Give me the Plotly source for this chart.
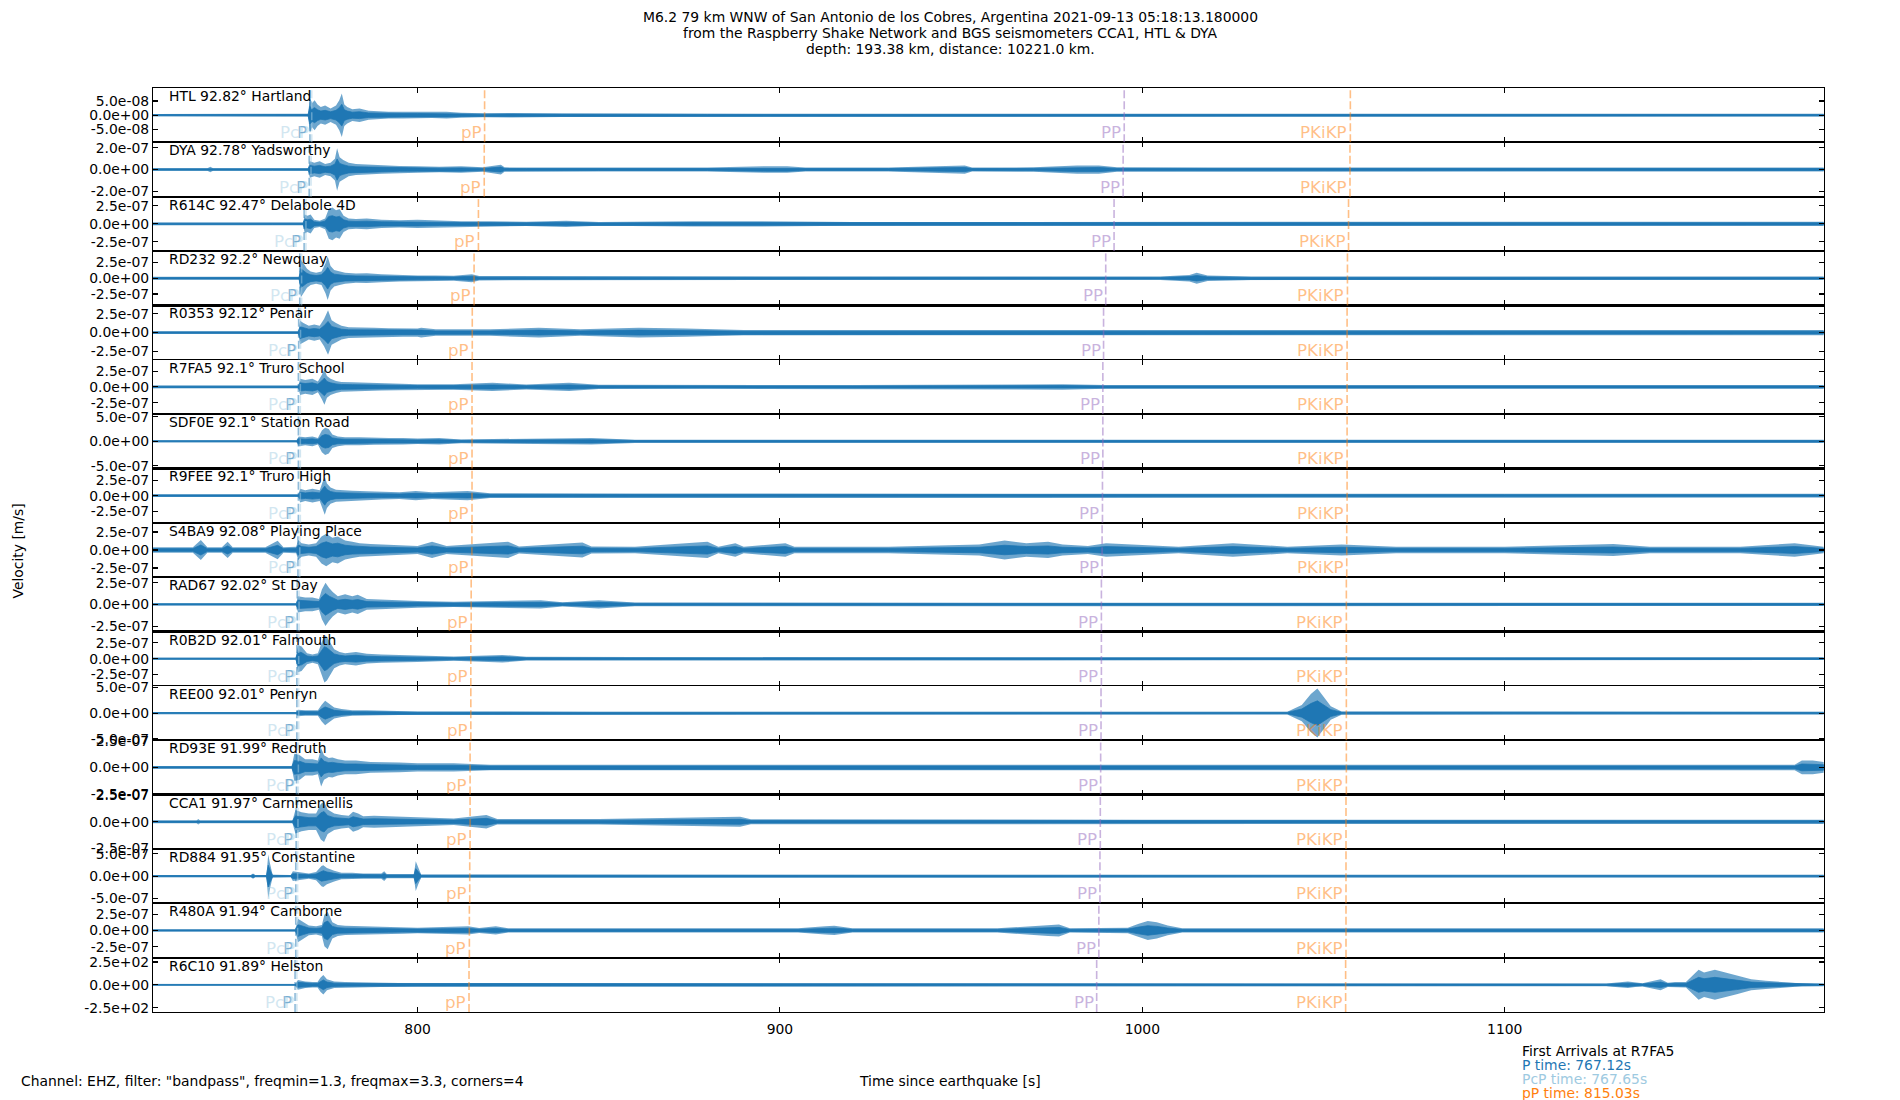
import plotly.graph_objects as go
from plotly.subplots import make_subplots

# ---------------- data ----------------
CODES = ["HTL", "DYA", "R614C", "RD232", "R0353", "R7FA5", "SDF0E", "R9FEE", "S4BA9",
         "RAD67", "R0B2D", "REE00", "RD93E", "CCA1", "RD884", "R480A", "R6C10"]
DISTS = [92.82, 92.78, 92.47, 92.2, 92.12, 92.1, 92.1, 92.1, 92.08,
         92.02, 92.01, 92.01, 91.99, 91.97, 91.95, 91.94, 91.89]
PLACES = ["Hartland", "Yadsworthy", "Delabole 4D", "Newquay", "Penair", "Truro School",
          "Station Road", "Truro High", "Playing Place", "St Day", "Falmouth", "Penryn",
          "Redruth", "Carnmenellis", "Constantine", "Camborne", "Helston"]

# amplitude unit per station (m/s, last one counts)
UNITS = [1e-7] * 16 + [1e2]
# half-range of each panel's y axis (in UNITS)
YLIM = [0.96, 2.5, 3.78, 4.3, 3.64, 4.3, 5.55, 4.39, 3.78, 3.13, 4.3, 5.23, 2.55, 2.55, 6.1, 4.17, 2.98]
# labelled y tick (in UNITS); ticks at +v, 0, -v
YTICK = [0.5, 2, 2.5, 2.5, 2.5, 2.5, 5, 2.5, 2.5, 2.5, 2.5, 5, 2.5, 2.5, 5, 2.5, 2.5]

# phase arrival times [s] per station
T_P = [770.3, 770.1, 768.7, 767.5, 767.2, 767.12, 767.12, 767.12, 767.0,
       766.8, 766.7, 766.7, 766.6, 766.5, 766.4, 766.4, 766.2]
T_PCP = [770.8, 770.6, 769.2, 768.0, 767.7, 767.65, 767.65, 767.65, 767.5,
         767.3, 767.2, 767.2, 767.1, 767.0, 766.9, 766.9, 766.7]
T_PP_DEPTH = [818.5, 818.4, 816.8, 815.6, 815.1, 815.03, 815.03, 815.03, 815.0,
              814.8, 814.7, 814.7, 814.5, 814.5, 814.4, 814.3, 814.2]
T_PP = [995.0, 994.7, 992.2, 989.9, 989.3, 989.1, 989.1, 989.0, 988.9,
        988.7, 988.7, 988.6, 988.5, 988.4, 988.3, 988.0, 987.4]
T_PKIKP = [1057.4, 1057.3, 1056.9, 1056.6, 1056.5, 1056.5, 1056.5, 1056.5, 1056.4,
           1056.3, 1056.3, 1056.3, 1056.3, 1056.2, 1056.2, 1056.2, 1056.1]

# trace envelopes: times [s] and peak amplitudes (in UNITS)
T_HTL = [727, 745, 769.8, 770.3, 770.9, 771.6, 772.4, 773.3, 774.5, 776, 777.5, 778.4, 779.1, 779.8,
         780.6, 782, 784, 786.5, 789, 792, 796, 800, 804, 808, 812, 818, 826, 840, 860, 880, 900,
         950, 1000, 1050, 1100, 1150, 1188]
A_HTL = [0.04, 0.05, 0.05, 0.62, 0.43, 0.53, 0.38, 0.29, 0.34, 0.24, 0.34, 0.53, 0.77, 0.38,
         0.29, 0.21, 0.24, 0.16, 0.14, 0.12, 0.12, 0.12, 0.10, 0.12, 0.09, 0.07, 0.08, 0.06, 0.06, 0.05, 0.05,
         0.05, 0.05, 0.05, 0.05, 0.05, 0.05]

T_DYA = [727, 742, 742.8, 743.6, 760, 769.8, 770.3, 771.5, 773, 774.5, 776, 777.2, 777.8, 778.5, 779.5,
         781, 783, 786, 790, 795, 800, 806, 812, 818, 823, 824, 830, 850, 880, 896, 902, 907, 930, 951,
         953, 970, 982, 988, 993, 1020, 1060, 1100, 1150, 1188]
A_DYA = [0.12, 0.12, 0.25, 0.12, 0.12, 0.12, 0.75, 0.62, 0.75, 0.5, 0.62, 1.0, 1.95, 1.12, 0.88,
         0.62, 0.5, 0.45, 0.38, 0.32, 0.3, 0.25, 0.3, 0.2, 0.45, 0.2, 0.18, 0.18, 0.18, 0.3, 0.3, 0.18, 0.18, 0.38,
         0.18, 0.2, 0.38, 0.38, 0.2, 0.18, 0.18, 0.18, 0.18, 0.18]

T_R614C = [727, 760, 768.4, 768.9, 769.6, 770.5, 771.5, 773, 774.5, 775.5, 776.5, 777.5, 778.5, 779.6,
           781, 783, 786, 790, 795, 800, 806, 812, 820, 830, 841, 850, 876, 893, 920, 960, 1000, 1060,
           1120, 1188]
A_R614C = [0.19, 0.19, 0.19, 1.32, 1.13, 1.32, 0.57, 0.45, 0.76, 2.08, 2.27, 1.89, 2.08, 1.13,
           0.76, 0.68, 0.76, 0.57, 0.49, 0.57, 0.45, 0.38, 0.38, 0.3, 0.45, 0.26, 0.38, 0.38, 0.26, 0.3, 0.3, 0.3,
           0.3, 0.3]

T_RD232 = [727, 766, 767.3, 767.8, 768.5, 769.5, 770.5, 772, 773.5, 774.6, 775.2, 776, 777, 778.5, 780,
           783, 786, 790, 795, 800, 805, 810, 815, 817, 825, 850, 880, 900, 950, 1005, 1013, 1015, 1018,
           1030, 1080, 1130, 1188]
A_RD232 = [0.22, 0.22, 0.22, 3.01, 2.37, 1.51, 1.08, 0.86, 1.08, 2.37, 3.44, 1.94, 1.29, 1.08, 0.86,
           0.73, 0.77, 0.65, 0.52, 0.43, 0.43, 0.39, 0.65, 0.34, 0.34, 0.3, 0.3, 0.26, 0.26, 0.26, 0.52, 0.86, 0.43,
           0.26, 0.26, 0.26, 0.26]

T_R0353 = [727, 766, 767.1, 767.6, 768.5, 770, 771.5, 773, 774.2, 775.3, 776.3, 777.5, 779, 781, 784,
           788, 792, 796, 800, 801, 805, 820, 833.5, 845, 861, 874, 890, 950, 1000, 1050, 1100, 1150, 1188]
A_R0353 = [0.18, 0.18, 0.18, 1.57, 1.27, 0.91, 1.09, 0.91, 1.82, 2.98, 1.64, 1.27, 0.91, 0.73, 0.73,
           0.66, 0.58, 0.55, 0.55, 0.66, 0.44, 0.44, 0.66, 0.44, 0.66, 0.55, 0.36, 0.36, 0.36, 0.36, 0.36, 0.36, 0.36]

T_R7FA5 = [727, 766, 767.1, 767.6, 769, 771, 772.5, 773.6, 774.3, 775, 776, 777.5, 779, 782, 786, 790,
           795, 800, 810, 820.7, 830, 841.8, 850, 880, 920, 978, 990, 1040, 1100, 1188]
A_R7FA5 = [0.22, 0.22, 0.22, 1.29, 1.08, 1.29, 0.86, 1.94, 2.8, 1.72, 1.29, 0.95, 0.77, 0.73, 0.65, 0.56,
           0.52, 0.43, 0.43, 0.65, 0.39, 0.65, 0.34, 0.3, 0.3, 0.43, 0.3, 0.3, 0.3, 0.3]

T_SDF0E = [727, 765.5, 766.6, 767.2, 769, 771, 772.5, 773.6, 774.5, 775.5, 776.5, 778, 780, 784, 788,
           792, 796, 800, 806, 812, 848, 860, 900, 1000, 1100, 1188]
A_SDF0E = [0.22, 0.22, 0.22, 1.0, 0.83, 1.0, 0.67, 2.22, 2.78, 2.5, 1.39, 1.0, 0.83, 0.83, 0.72,
           0.67, 0.67, 0.56, 0.67, 0.39, 0.67, 0.33, 0.33, 0.33, 0.33, 0.33]

T_R9FEE = [727, 766, 767.1, 767.6, 769, 771, 773, 773.8, 774.4, 775, 776, 777.5, 779, 782, 786, 790,
           795, 799.5, 804, 813.8, 820, 860, 900, 1000, 1100, 1188]
A_R9FEE = [0.22, 0.22, 0.22, 1.1, 0.88, 1.1, 0.88, 2.2, 3.07, 1.98, 1.32, 0.97, 0.88, 0.79, 0.7, 0.61,
           0.53, 0.75, 0.53, 0.75, 0.4, 0.35, 0.31, 0.31, 0.31, 0.31]

T_S4BA9 = [727, 738, 740.2, 742, 746, 747.6, 749, 758, 761.4, 763, 766.5, 767.1, 768, 770, 772, 773.5,
           774.8, 776.5, 778, 780, 782, 784, 787, 790, 795, 800, 804, 808, 825, 828, 845.5, 848, 860,
           878, 880, 883, 887.7, 890, 901.5, 904, 930, 955, 962, 968, 974, 978, 985, 990, 1000, 1010,
           1025, 1040, 1055, 1070, 1100, 1130, 1140, 1165, 1180, 1188]
A_S4BA9 = [0.38, 0.38, 1.4, 0.38, 0.38, 1.13, 0.38, 0.38, 1.29, 0.38, 0.45, 1.4, 0.95, 0.76, 0.95, 1.89,
           2.27, 1.7, 1.89, 1.32, 1.13, 0.95, 0.83, 0.76, 0.68, 0.57, 1.13, 0.57, 1.13, 0.49, 1.06, 0.49, 0.45,
           1.06, 1.13, 0.45, 0.95, 0.45, 0.95, 0.45, 0.45, 0.76, 1.32, 0.95, 1.13, 0.76, 0.57, 0.95, 0.68, 0.45,
           0.95, 0.45, 0.76, 0.45, 0.45, 0.83, 0.45, 0.45, 0.95, 0.45]

T_RAD67 = [727, 765.8, 766.5, 767, 769, 771, 772.8, 773.6, 774.6, 775.6, 776.6, 778, 780, 782, 783.5,
           786, 790, 795, 800, 810, 834, 840, 850, 860, 900, 1000, 1100, 1188]
A_RAD67 = [0.13, 0.13, 0.13, 0.94, 0.78, 0.78, 0.63, 1.72, 2.5, 1.88, 1.41, 0.94, 1.16, 0.94, 1.1,
           0.63, 0.56, 0.47, 0.38, 0.31, 0.47, 0.25, 0.47, 0.22, 0.19, 0.19, 0.19, 0.19]

T_R0B2D = [727, 765.8, 766.4, 767, 768, 769.5, 771, 772.5, 773.3, 774.3, 775, 775.8, 777, 778.5, 780,
           783, 786, 790, 795, 800, 810, 823.4, 830, 860, 900, 1000, 1100, 1188]
A_R0B2D = [0.17, 0.17, 0.17, 2.15, 1.94, 0.86, 0.65, 0.86, 2.15, 3.78, 3.44, 2.58, 1.51, 1.08, 0.86,
           1.08, 0.77, 0.65, 0.56, 0.52, 0.34, 0.6, 0.3, 0.26, 0.22, 0.22, 0.22, 0.22]

T_REE00 = [727, 766, 766.5, 767, 769, 772.5, 773.5, 774.5, 775.5, 777, 779, 782, 786, 790, 800, 850,
           900, 1000, 1040, 1044, 1046.5, 1048.3, 1050, 1052, 1055, 1100, 1188]
A_REE00 = [0.21, 0.21, 0.21, 0.63, 0.52, 0.52, 1.57, 2.35, 1.83, 1.05, 0.78, 0.52, 0.52, 0.42, 0.31, 0.26,
           0.26, 0.26, 0.26, 1.57, 3.66, 4.71, 3.14, 1.31, 0.31, 0.26, 0.26]

T_RD93E = [727, 764.8, 765.3, 766, 767.5, 769, 771, 772.5, 773.4, 774.2, 775.5, 776.5, 778, 780, 783,
           787, 790, 795, 800, 810, 820, 850, 900, 1000, 1100, 1180, 1182, 1185, 1188]
A_RD93E = [0.13, 0.13, 0.13, 1.28, 1.15, 0.77, 0.77, 0.64, 1.79, 1.15, 0.89, 0.94, 0.77, 0.64, 0.64,
           0.51, 0.51, 0.46, 0.38, 0.38, 0.26, 0.26, 0.26, 0.26, 0.26, 0.26, 0.64, 0.64, 0.51]

T_CCA1 = [727, 739, 739.5, 740, 765, 765.5, 766.3, 768, 770, 772, 773.3, 774.2, 775.2, 777, 779, 781,
          782.2, 783.6, 785, 788, 792, 796, 800, 810, 819, 822, 850, 889, 892, 950, 1000, 1100, 1188]
A_CCA1 = [0.13, 0.13, 0.26, 0.13, 0.13, 0.13, 1.1, 0.89, 0.77, 0.77, 1.66, 1.91, 1.15, 0.77, 0.64, 0.56,
          0.94, 0.77, 0.51, 0.56, 0.51, 0.46, 0.38, 0.31, 0.64, 0.26, 0.26, 0.46, 0.23, 0.2, 0.2, 0.2, 0.2]

T_RD884 = [727, 754, 754.6, 755.2, 758.3, 758.8, 759.3, 760, 765, 765.6, 767, 770, 772, 773.5, 774, 775,
           777, 779, 782, 785, 790, 790.8, 791.5, 795, 799, 799.5, 800.2, 801, 810, 850, 900, 1000, 1100, 1188]
A_RD884 = [0.24, 0.24, 0.61, 0.24, 0.24, 4.88, 2.75, 0.31, 0.24, 1.1, 0.92, 0.61, 0.92, 2.26, 2.44, 1.83,
           1.22, 0.73, 0.73, 0.61, 0.61, 1.1, 0.49, 0.49, 0.49, 3.36, 1.83, 0.37, 0.37, 0.31, 0.31, 0.31, 0.31, 0.31]

T_R480A = [727, 765.8, 766.3, 767, 768.5, 770, 772, 773.6, 774.3, 775.2, 776.5, 778, 780, 784, 788, 792,
           796, 800, 814, 817, 821.6, 825, 860, 905, 912.5, 915, 918, 920, 960, 974, 977, 980, 996, 999,
           1001.5, 1004, 1007, 1011, 1030, 1100, 1188]
A_R480A = [0.17, 0.17, 0.17, 1.79, 1.25, 0.75, 0.63, 0.83, 2.42, 2.88, 1.25, 0.83, 0.71, 0.63, 0.63, 0.54,
           0.5, 0.42, 0.63, 0.38, 0.63, 0.33, 0.33, 0.33, 0.63, 0.71, 0.5, 0.33, 0.33, 0.83, 0.92, 0.33, 0.42, 1.04,
           1.46, 1.25, 0.75, 0.33, 0.33, 0.33, 0.33]

T_R6C10 = [727, 765.8, 766.2, 767, 769, 771, 772.4, 773.2, 774, 775, 777, 780, 785, 790, 800, 850, 900,
           1000, 1100, 1128, 1134, 1136, 1138, 1143, 1145, 1147, 1150, 1153.5, 1155, 1158, 1161, 1164,
           1168, 1172, 1176, 1180, 1182, 1188]
A_R6C10 = [0.09, 0.09, 0.09, 0.54, 0.36, 0.3, 0.3, 0.77, 1.07, 0.6, 0.36, 0.3, 0.3, 0.24, 0.18, 0.15, 0.15,
           0.15, 0.15, 0.15, 0.36, 0.24, 0.18, 0.6, 0.24, 0.3, 0.3, 1.64, 1.34, 1.64, 1.34, 1.04,
           0.6, 0.45, 0.36, 0.24, 0.15, 0.15]

TIMES = [T_HTL, T_DYA, T_R614C, T_RD232, T_R0353, T_R7FA5, T_SDF0E, T_R9FEE, T_S4BA9,
         T_RAD67, T_R0B2D, T_REE00, T_RD93E, T_CCA1, T_RD884, T_R480A, T_R6C10]
AMPS = [A_HTL, A_DYA, A_R614C, A_RD232, A_R0353, A_R7FA5, A_SDF0E, A_R9FEE, A_S4BA9,
        A_RAD67, A_R0B2D, A_REE00, A_RD93E, A_CCA1, A_RD884, A_R480A, A_R6C10]

X_RANGE = [727.0, 1188.1]
X_TICKS = [800, 900, 1000, 1100]

TITLE_LINES = ["M6.2 79 km WNW of San Antonio de los Cobres, Argentina 2021-09-13 05:18:13.180000",
               "from the Raspberry Shake Network and BGS seismometers CCA1, HTL & DYA",
               "depth: 193.38 km, distance: 10221.0 km."]
ARRIVAL_LINES = ["First Arrivals at R7FA5", "P time: 767.12s", "PcP time: 767.65s", "pP time: 815.03s"]
ARRIVAL_COLORS = ["#000000", "#1f77b4", "#9ecae1", "#ff7f0e"]

# phases: (name, times, rgba colour)
PHASES = [("PcP", T_PCP, "rgba(166,206,227,0.5)"),
          ("P", T_P, "rgba(31,119,180,0.5)"),
          ("pP", T_PP_DEPTH, "rgba(255,127,14,0.5)"),
          ("PP", T_PP, "rgba(148,103,189,0.5)"),
          ("PKiKP", T_PKIKP, "rgba(255,127,14,0.5)")]

# ---------------- figure ----------------
W, H = 1900, 1100
ML, MR, MT, MB = 153, 76, 88, 88
FONT = "DejaVu Sans"
FS = 13.9
TRACE_C = "#1f77b4"
TRACE_HAZE = "rgba(31,119,180,0.65)"
CORE = 0.5  # dense core of the wiggles, as a share of the peak envelope

N = len(CODES)
fig = make_subplots(rows=N, cols=1, shared_xaxes=True, vertical_spacing=0)


def px_x(px):
    return (px - ML) / (W - ML - MR)


def px_y(py):
    return (H - MB - py) / (H - MT - MB)


def fmt(v):
    return "%.1e" % v


annotations = []
shapes = []
for i in range(N):
    row = i + 1
    u = UNITS[i]
    n = min(len(TIMES[i]), len(AMPS[i]))
    t, a = TIMES[i][:n], AMPS[i][:n]
    xs = list(t) + list(t[::-1])
    # translucent outer envelope (peaks of the wiggles)
    ys = [v * u for v in a] + [-v * u for v in a[::-1]]
    fig.add_trace(go.Scatter(x=xs, y=ys, mode="lines", fill="toself", fillcolor=TRACE_HAZE,
                             line=dict(width=0), hoverinfo="skip", showlegend=False),
                  row=row, col=1)
    # dense core
    yc = [CORE * v * u for v in a] + [-CORE * v * u for v in a[::-1]]
    fig.add_trace(go.Scatter(x=xs, y=yc, mode="lines", fill="toself", fillcolor=TRACE_C,
                             line=dict(color=TRACE_C, width=0.8), hoverinfo="skip",
                             showlegend=False), row=row, col=1)

    sfx = "" if row == 1 else str(row)
    xa = "x" + sfx
    ya = "y" + sfx
    lim = YLIM[i] * u
    tv = YTICK[i] * u
    fig.update_yaxes(range=[-lim, lim], tickvals=[tv, 0, -tv],
                     ticktext=[fmt(tv), fmt(0.0), fmt(-tv)],
                     ticks="inside", ticklen=5, tickwidth=1.1, tickcolor="black",
                     showline=True, linecolor="black", linewidth=1.1, mirror="ticks",
                     showgrid=False, zeroline=False,
                     tickfont=dict(family=FONT, size=FS, color="black"),
                     fixedrange=True, row=row, col=1)
    fig.update_xaxes(range=X_RANGE, tickvals=X_TICKS, ticktext=[str(v) for v in X_TICKS],
                     ticks="inside", ticklen=5, tickwidth=1.1, tickcolor="black",
                     showline=True, linecolor="black", linewidth=1.1, mirror="ticks",
                     showgrid=False, zeroline=False, showticklabels=(row == N),
                     ticklabelstandoff=(4 if row == N else 0),
                     tickfont=dict(family=FONT, size=FS, color="black"),
                     row=row, col=1)

    # station label
    annotations.append(dict(text="%s %s\u00b0 %s" % (CODES[i], format(DISTS[i], "g"), PLACES[i]),
                            xref=xa + " domain", yref=ya + " domain", x=0.01, y=1.0,
                            xanchor="left", yanchor="top", showarrow=False, xshift=-3, yshift=2,
                            font=dict(family=FONT, size=FS, color="black")))

    # phase lines and labels
    for name, times, col in PHASES:
        tt = times[i]
        shapes.append(dict(type="line", xref=xa, yref=ya + " domain", x0=tt, x1=tt, y0=0, y1=1,
                           line=dict(color=col, width=1.6, dash="8px,3px"), layer="above"))
        annotations.append(dict(text=name, xref=xa, yref=ya + " domain", x=tt, y=0,
                                xanchor="right", yanchor="bottom", showarrow=False,
                                xshift=-1, yshift=-2,
                                font=dict(family=FONT, size=16.7, color=col)))

# title
for line, py in zip(TITLE_LINES, [17, 32.8, 48.6]):
    annotations.append(dict(text=line, xref="paper", yref="paper", x=px_x(950), y=px_y(py),
                            xanchor="center", yanchor="middle", showarrow=False,
                            font=dict(family=FONT, size=FS, color="black")))

annotations.append(dict(text="Velocity [m/s]", xref="paper", yref="paper", x=px_x(17.5), y=px_y(551),
                        xanchor="center", yanchor="middle", textangle=-90, showarrow=False,
                        font=dict(family=FONT, size=FS, color="black")))
annotations.append(dict(text='Channel: EHZ, filter: "bandpass", freqmin=1.3, freqmax=3.3, corners=4',
                        xref="paper", yref="paper", x=px_x(19), y=px_y(1081),
                        xanchor="left", yanchor="middle", showarrow=False,
                        font=dict(family=FONT, size=FS, color="black")))
annotations.append(dict(text="Time since earthquake [s]", xref="paper", yref="paper",
                        x=px_x(950), y=px_y(1081), xanchor="center", yanchor="middle", showarrow=False,
                        font=dict(family=FONT, size=FS, color="black")))
for line, col, py in zip(ARRIVAL_LINES, ARRIVAL_COLORS, [1051, 1065, 1079, 1092.5]):
    annotations.append(dict(text=line, xref="paper", yref="paper", x=px_x(1520), y=px_y(py),
                            xanchor="left", yanchor="middle", showarrow=False,
                            font=dict(family=FONT, size=FS, color=col)))

fig.update_layout(width=W, height=H, autosize=False,
                  margin=dict(l=ML, r=MR, t=MT, b=MB, pad=0),
                  paper_bgcolor="white", plot_bgcolor="white",
                  font=dict(family=FONT, size=FS, color="black"),
                  showlegend=False, annotations=annotations, shapes=shapes)

fig.write_html("out.html", config={"displayModeBar": False, "staticPlot": True},
               post_script="document.body.style.margin='0px';document.body.style.overflow='hidden';")
